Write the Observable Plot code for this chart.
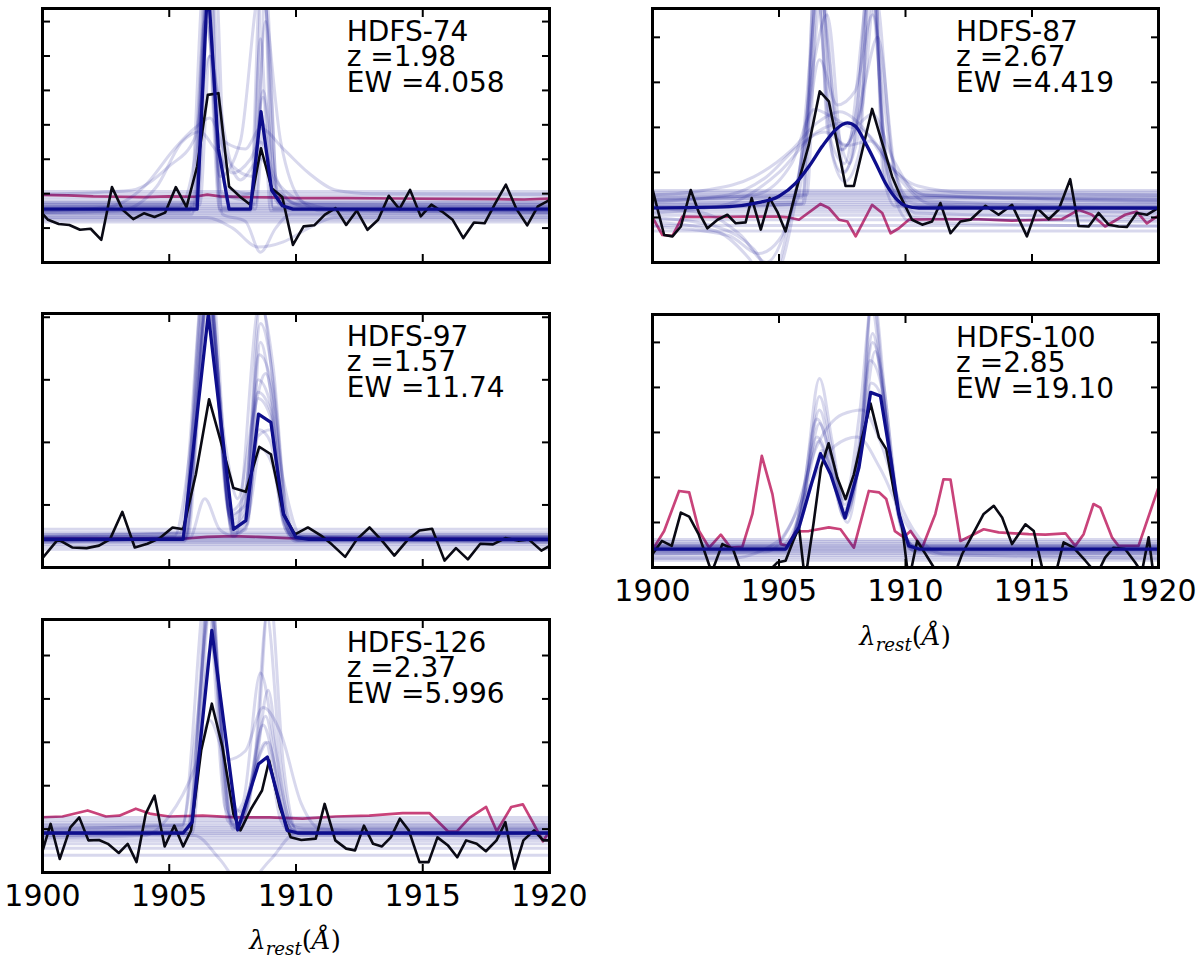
<!DOCTYPE html>
<html><head><meta charset="utf-8">
<script src="https://cdn.jsdelivr.net/npm/d3@7"></script>
<script src="https://cdn.jsdelivr.net/npm/@observablehq/plot@0.6"></script>
<style>
body{margin:0;background:#fff;}
#page{position:relative;width:1200px;height:967px;background:#fff;overflow:hidden;font-family:"DejaVu Sans",sans-serif;}
.panel{position:absolute;}
.xlab{position:absolute;width:200px;text-align:center;font-family:"DejaVu Serif",serif;font-size:26px;line-height:1;color:#000;white-space:nowrap;}
.xlab i{font-style:italic;}
.xlab sub{font-size:70%;vertical-align:-0.35em;line-height:0;}
</style></head>
<body><div id="page"></div>
<script>
// ---------- shared axis values ----------
const xTicks = [1900, 1905, 1910, 1915, 1920];

// ---------- HDFS-74 ----------
const labels74 = ["HDFS-74", "z =1.98", "EW =4.058"];
const yTicks74 = [0, 1, 2, 3, 4, 5, 6, 7];
const yMax74 = 7.38;
const obs74 = [[1899.80,1.58],[1900.22,1.24],[1900.64,1.12],[1901.06,1.09],[1901.48,0.95],[1901.90,0.98],[1902.32,0.66],[1902.74,2.19],[1903.16,1.53],[1903.58,1.26],[1904.00,1.43],[1904.42,1.32],[1904.84,1.45],[1905.26,2.19],[1905.68,1.61],[1906.10,2.79],[1906.52,4.87],[1906.94,4.92],[1907.36,2.21],[1907.78,1.92],[1908.20,1.68],[1908.62,3.32],[1909.04,2.16],[1909.46,1.90],[1909.88,0.51],[1910.30,1.05],[1910.72,1.08],[1911.14,1.39],[1911.56,1.58],[1911.98,1.09],[1912.40,1.51],[1912.82,0.95],[1913.24,1.24],[1913.66,1.94],[1914.08,1.55],[1914.50,2.11],[1914.92,1.34],[1915.34,1.68],[1915.76,1.48],[1916.18,1.24],[1916.60,0.71],[1917.02,1.16],[1917.44,1.14],[1917.86,1.72],[1918.28,2.26],[1918.70,1.55],[1919.12,1.08],[1919.54,1.63],[1919.96,1.80]];
const fit74 = [[1899.8,1.55],[1906.10,1.55],[1906.52,8.2],[1906.94,3.3],[1907.36,1.55],[1908.20,1.55],[1908.62,4.38],[1909.04,2.1],[1909.46,1.65],[1909.88,1.55],[1920.2,1.55]];
const noise74 = [[1899.8,1.97],[1901,1.95],[1902,1.92],[1903,1.91],[1904,1.9],[1905,1.92],[1906,1.91],[1906.5,1.97],[1907,1.92],[1908,1.9],[1909,1.89],[1910,1.87],[1912,1.87],[1914,1.86],[1916,1.85],[1918,1.84],[1919,1.83],[1920.2,1.86]];
const cont74 = [2.06, 1.98, 1.9, 1.82, 1.74, 1.68, 1.62, 1.57, 1.52, 1.47, 1.42, 1.36, 1.3, 1.24, 1.18];
const samples74 = [
 [[1900,1.6],[1906.0,1.6],[1906.5,9.5],[1907.1,1.6],[1908.3,1.6],[1908.7,9],[1909.1,1.6],[1920,1.6]],
 [[1900,1.5],[1905.8,1.5],[1906.4,8.5],[1907.0,1.5],[1908.2,1.5],[1908.6,6.5],[1909.0,1.5],[1920,1.5]],
 [[1900,1.7],[1906.1,1.7],[1906.7,10],[1907.3,1.7],[1908.4,1.7],[1908.8,8],[1909.3,1.7],[1920,1.7]],
 [[1900,1.45],[1903,1.5],[1904.5,2.2],[1905.5,3.5],[1906.2,3.8],[1906.8,3.3],[1907.5,2.6],[1908.2,3.0],[1908.6,3.5],[1909.2,2.4],[1910.5,1.7],[1912,1.5],[1920,1.45]],
 [[1900,1.98],[1903.5,2.1],[1905,2.8],[1906,3.6],[1906.6,6],[1907.2,3.5],[1908,3.3],[1908.6,3.9],[1909.5,3.3],[1910.5,2.6],[1911.6,2.1],[1913,2.0],[1920,1.98]],
 [[1900,1.4],[1905.9,1.4],[1906.5,8],[1907.1,1.4],[1908.0,1.2],[1908.6,0.3],[1909.2,1.0],[1909.8,1.4],[1920,1.4]],
 [[1900,1.3],[1906.5,1.3],[1907.5,1.0],[1908.5,0.45],[1909.5,0.6],[1910.5,1.0],[1911.5,1.3],[1920,1.3]],
 [[1900,1.62],[1905.4,1.65],[1906.0,3],[1906.4,7],[1906.9,5],[1907.5,2.8],[1908.3,2.5],[1908.7,5],[1909.2,2.5],[1910,1.7],[1920,1.62]],
 [[1900,1.55],[1906.1,1.55],[1906.55,11],[1907.0,1.55],[1908.4,1.55],[1908.75,4],[1909.1,1.55],[1920,1.55]],
 [[1900,1.5],[1902.5,1.6],[1904,2.2],[1905.2,3.3],[1906,3.9],[1906.6,4.2],[1907.2,3.2],[1907.8,2.4],[1908.6,3],[1909.4,2],[1910.5,1.6],[1920,1.5]],
 [[1900,1.66],[1906.2,1.66],[1906.6,6],[1907.0,1.9],[1908.2,2.0],[1908.65,9],[1909.2,2],[1909.8,1.66],[1920,1.66]],
 [[1900,1.45],[1906,1.5],[1906.5,7],[1907,2.5],[1907.8,3.5],[1908.6,8],[1909.4,3.5],[1910.2,1.8],[1911,1.5],[1920,1.45]],
 [[1900,1.58],[1905.9,1.6],[1906.5,7.5],[1907.1,2.0],[1908.2,1.8],[1908.7,4.8],[1909.2,1.8],[1909.8,1.6],[1920,1.58]],
 [[1900,1.75],[1906.0,1.75],[1906.6,9],[1907.2,2.2],[1908.3,2.0],[1908.8,7],[1909.3,1.9],[1910,1.75],[1920,1.75]]
];

// ---------- HDFS-87 ----------
const labels87 = ["HDFS-87", "z =2.67", "EW =4.419"];
const yTicks87 = [0, 1, 2, 3, 4, 5];
const yMax87 = 5.64;
const obs87 = [[1899.9,1.85],[1900.46,0.61],[1900.79,0.58],[1901.12,0.80],[1901.51,1.61],[1901.84,1.10],[1902.17,0.76],[1902.57,0.95],[1902.96,1.06],[1903.29,0.87],[1903.68,0.89],[1903.92,1.43],[1904.28,0.73],[1904.63,1.43],[1904.93,1.13],[1905.26,0.69],[1905.72,1.69],[1906.18,2.61],[1906.61,3.80],[1906.97,3.58],[1907.63,1.70],[1907.96,1.70],[1908.68,3.41],[1909.47,1.91],[1909.80,1.47],[1910.26,0.95],[1910.66,0.84],[1911.05,0.91],[1911.38,1.32],[1911.78,0.65],[1912.17,0.91],[1912.57,0.95],[1913.16,1.26],[1913.68,1.06],[1914.21,1.28],[1914.80,0.58],[1915.20,1.21],[1915.66,0.96],[1916.05,1.17],[1916.51,1.85],[1916.84,0.81],[1917.24,0.80],[1917.63,1.10],[1918.03,0.84],[1918.42,0.80],[1918.75,0.79],[1919.14,1.10],[1919.54,1.06],[1919.93,1.19]];
const fit87 = [[1899.8,1.21],[1901.5,1.22],[1903.03,1.24],[1904.08,1.32],[1905.0,1.47],[1905.66,1.76],[1906.18,2.13],[1906.71,2.58],[1907.24,2.95],[1907.70,3.10],[1908.03,3.02],[1908.42,2.65],[1908.82,2.21],[1909.21,1.76],[1909.61,1.43],[1910.0,1.26],[1910.53,1.21],[1912,1.21],[1920.2,1.21]];
const noise87 = [[1899.9,1.10],[1900.39,0.61],[1900.79,0.59],[1901.18,1.02],[1902.37,1.01],[1903.68,1.02],[1905.0,1.02],[1905.39,1.0],[1905.79,0.95],[1906.64,1.30],[1906.97,1.21],[1907.37,0.95],[1907.7,0.91],[1908.03,0.58],[1908.68,1.28],[1909.08,1.10],[1909.41,0.65],[1909.74,0.76],[1910.13,0.95],[1911.18,0.96],[1912.89,0.96],[1914.21,0.93],[1916.18,0.96],[1916.84,1.17],[1917.37,1.06],[1917.89,0.80],[1918.68,1.06],[1919.14,1.13],[1919.54,0.87],[1919.93,1.02]];
const cont87 = [1.6, 1.56, 1.52, 1.48, 1.43, 1.38, 1.33, 1.28, 1.24, 1.18, 1.12, 1.05, 0.95, 0.82, 0.7];
const samples87 = [
 [[1900,1.3],[1905.7,1.35],[1906.2,4],[1906.55,7],[1907.0,4],[1907.5,2.5],[1908.1,3.5],[1908.6,7],[1909.1,3],[1909.7,1.5],[1910.5,1.3],[1920,1.3]],
 [[1900,1.4],[1905.9,1.45],[1906.45,6.5],[1907.0,2.8],[1907.6,2.2],[1908.7,6.5],[1909.3,1.8],[1910,1.45],[1920,1.4]],
 [[1900,1.5],[1902,1.6],[1904,1.9],[1905.5,2.5],[1906.5,3.1],[1907.4,3.35],[1908.3,3.0],[1909.3,2.2],[1910.5,1.7],[1912.5,1.55],[1920,1.5]],
 [[1900,1.2],[1902,1.1],[1903.5,0.6],[1904.5,0.0],[1905.3,0.8],[1906,2.5],[1906.6,4.5],[1907.3,3.5],[1908.0,3.8],[1908.7,5.5],[1909.4,2.5],[1910.2,1.4],[1920,1.2]],
 [[1900,1.0],[1902.5,0.8],[1904,0.3],[1904.8,-0.3],[1905.6,1.2],[1906.4,4.5],[1906.9,5.5],[1907.6,2.0],[1908.4,4],[1908.9,5],[1909.6,2],[1910.4,1.1],[1920,1.0]],
 [[1900,1.1],[1903,1.3],[1905,2.0],[1906.5,2.9],[1907.6,3.1],[1908.6,2.8],[1909.7,1.9],[1911,1.3],[1920,1.1]],
 [[1900,1.25],[1906.0,1.3],[1906.5,8],[1906.9,3],[1907.5,2],[1908.2,3],[1908.7,8],[1909.1,2],[1909.6,1.25],[1920,1.25]],
 [[1900,0.8],[1903,0.6],[1904.2,0.2],[1905,0.5],[1905.8,2],[1906.6,6],[1907.3,3],[1907.8,2.2],[1908.6,6],[1909.3,2],[1910.2,0.9],[1920,0.8]],
 [[1900,1.35],[1903,1.5],[1904.5,1.9],[1905.8,2.6],[1906.8,2.9],[1907.7,2.6],[1908.6,2.7],[1909.5,2.1],[1910.8,1.5],[1920,1.35]],
 [[1900,1.45],[1906.1,1.5],[1906.6,7],[1907.1,2.4],[1907.6,1.8],[1908.2,2.5],[1908.65,7.5],[1909.2,1.8],[1909.8,1.45],[1920,1.45]],
 [[1900,1.2],[1905.9,1.3],[1906.5,6],[1907.0,3.2],[1907.6,2.6],[1908.2,3.4],[1908.7,6],[1909.2,2.2],[1909.9,1.25],[1920,1.2]],
 [[1900,1.38],[1904,1.5],[1905.5,2.2],[1906.4,3.4],[1907.2,3.2],[1907.9,3.0],[1908.7,3.3],[1909.5,2.3],[1910.6,1.5],[1920,1.38]],
 [[1900,0.9],[1902.5,0.7],[1903.8,0.1],[1904.6,-0.5],[1905.4,0.9],[1906.2,3.5],[1906.7,6],[1907.4,2.5],[1908.3,3.5],[1908.8,6],[1909.5,2.2],[1910.3,1.0],[1920,0.9]]
];

// ---------- HDFS-97 ----------
const labels97 = ["HDFS-97", "z =1.57", "EW =11.74"];
const yTicks97 = [0, 1, 2, 3, 4];
const yMax97 = 4.06;
const obs97 = [[1899.9,0.10],[1900.61,0.45],[1901.17,0.32],[1901.74,0.31],[1902.23,0.35],[1902.66,0.45],[1903.15,0.89],[1903.64,0.32],[1904.14,0.38],[1904.63,0.47],[1905.13,0.64],[1905.55,0.61],[1906.05,1.49],[1906.57,2.69],[1907.03,2.02],[1907.53,1.27],[1908.02,1.21],[1908.55,1.93],[1909.01,1.81],[1909.51,0.85],[1909.96,0.53],[1910.47,0.64],[1910.99,0.51],[1911.41,0.37],[1911.94,0.17],[1912.40,0.45],[1912.90,0.64],[1913.39,0.43],[1913.88,0.19],[1914.38,0.43],[1914.87,0.59],[1915.37,0.62],[1915.86,0.11],[1916.31,0.31],[1916.78,0.13],[1917.27,0.38],[1917.77,0.37],[1918.26,0.47],[1918.76,0.43],[1919.18,0.45],[1919.68,0.27],[1920.06,0.36]];
const fit97 = [[1899.8,0.45],[1905.55,0.45],[1906.54,4.05],[1907.53,0.61],[1908.02,0.75],[1908.52,2.45],[1909.01,2.32],[1909.51,0.85],[1910.0,0.48],[1910.5,0.45],[1920.2,0.45]];
const noise97 = [[1899.8,0.46],[1905.5,0.46],[1906.5,0.49],[1907.5,0.5],[1908.5,0.49],[1909.7,0.47],[1920.2,0.45]];
const cont97 = [0.61, 0.56, 0.53, 0.5, 0.48, 0.46, 0.44, 0.42, 0.4, 0.37, 0.34, 0.29];
const samples97 = [
 [[1900,0.48],[1905.5,0.5],[1906.5,4.6],[1907.5,0.7],[1908.0,0.9],[1908.5,3.0],[1909.0,2.6],[1909.5,0.9],[1910,0.48],[1920,0.48]],
 [[1900,0.42],[1905.6,0.42],[1906.55,4.4],[1907.5,0.55],[1908.0,0.6],[1908.55,2.2],[1909.0,2.0],[1909.5,0.7],[1910,0.42],[1920,0.42]],
 [[1900,0.5],[1905.4,0.55],[1906.5,5],[1907.4,0.9],[1908.0,1.2],[1908.6,4.2],[1909.1,3.2],[1909.6,1.0],[1910.1,0.5],[1920,0.5]],
 [[1900,0.45],[1905.7,0.45],[1906.6,4.8],[1907.5,0.5],[1908.1,0.7],[1908.6,3.6],[1909.0,2.8],[1909.5,0.8],[1910,0.45],[1920,0.45]],
 [[1900,0.4],[1905.2,0.5],[1906.0,2.5],[1906.5,4.5],[1907.2,2],[1907.7,1.1],[1908.3,2.4],[1908.8,3.1],[1909.5,1.4],[1910.2,0.5],[1920,0.4]],
 [[1900,0.47],[1905.6,0.47],[1906.5,4.3],[1907.5,0.6],[1908.1,0.8],[1908.6,1.9],[1909.1,1.6],[1909.6,0.6],[1910,0.47],[1920,0.47]],
 [[1900,0.47],[1905.8,0.47],[1906.4,1.1],[1907.0,0.6],[1907.6,0.5],[1908.6,4.3],[1909.2,2.5],[1909.7,0.6],[1910.2,0.47],[1920,0.47]],
 [[1900,0.52],[1905.5,0.55],[1906.45,4.7],[1907.4,0.8],[1907.9,1.0],[1908.5,2.8],[1909.0,2.5],[1909.5,0.9],[1910,0.52],[1920,0.52]],
 [[1900,0.44],[1905.6,0.45],[1906.5,4.2],[1907.5,0.65],[1908.0,0.85],[1908.5,2.7],[1909.0,2.4],[1909.5,0.8],[1910,0.44],[1920,0.44]],
 [[1900,0.49],[1905.5,0.5],[1906.55,4.5],[1907.45,0.75],[1907.95,0.95],[1908.55,3.4],[1909.05,2.9],[1909.55,0.9],[1910,0.49],[1920,0.49]],
 [[1900,0.46],[1905.65,0.46],[1906.5,4.1],[1907.55,0.55],[1908.05,0.7],[1908.5,2.1],[1909.0,2.2],[1909.5,0.75],[1910,0.46],[1920,0.46]],
 [[1900,0.43],[1905.5,0.48],[1906.45,4.9],[1907.4,0.85],[1908.0,1.0],[1908.6,3.9],[1909.1,3.0],[1909.6,0.95],[1910.1,0.43],[1920,0.43]]
];

// ---------- HDFS-100 ----------
const labels100 = ["HDFS-100", "z =2.85", "EW =19.10"];
const yTicks100 = [0, 1, 2, 3, 4, 5];
const yMax100 = 5.62;
const obs100 = [[1899.9,0.22],[1900.37,0.59],[1900.76,0.48],[1901.12,1.22],[1901.45,1.13],[1901.82,0.74],[1902.34,-0.11],[1902.76,0.52],[1903.18,0.41],[1903.63,-0.30],[1904.21,-0.30],[1904.93,0.11],[1905.26,0.15],[1905.59,0.63],[1905.79,0.89],[1906.03,-0.30],[1906.36,0.96],[1906.66,2.22],[1906.96,2.76],[1907.30,2.0],[1907.63,1.52],[1907.96,2.07],[1908.29,2.89],[1908.62,3.64],[1908.95,2.89],[1909.24,2.63],[1909.54,1.70],[1909.87,0.89],[1910.13,-0.30],[1910.46,0.59],[1910.79,0.30],[1911.12,0.0],[1911.45,-0.30],[1911.84,-0.30],[1912.24,0.30],[1912.70,0.78],[1913.09,1.19],[1913.49,1.37],[1913.82,1.11],[1914.21,0.52],[1914.74,0.96],[1915.07,0.81],[1915.46,-0.15],[1915.86,-0.30],[1916.25,0.56],[1916.64,0.44],[1917.11,0.15],[1917.57,-0.15],[1917.89,0.22],[1918.22,0.44],[1918.68,0.41],[1919.08,0.11],[1919.34,-0.11],[1919.61,0.67],[1919.80,-0.15],[1920.07,-0.30]];
const fit100 = [[1899.8,0.41],[1905.26,0.41],[1905.79,0.89],[1906.32,1.93],[1906.64,2.53],[1907.04,2.07],[1907.61,1.10],[1908.16,2.22],[1908.62,3.89],[1909.01,3.81],[1909.41,2.44],[1909.74,1.19],[1910.13,0.48],[1910.53,0.41],[1920.2,0.41]];
const noise100 = [[1899.9,0.30],[1900.46,0.81],[1901.05,1.70],[1901.45,1.67],[1901.84,0.81],[1902.24,0.44],[1902.70,0.73],[1903.09,0.44],[1903.55,0.46],[1903.95,1.19],[1904.32,2.48],[1904.74,1.63],[1905.07,0.52],[1905.33,0.48],[1905.66,0.80],[1906.18,0.81],[1906.97,0.89],[1907.43,0.85],[1907.96,0.44],[1908.55,1.70],[1908.95,1.67],[1909.24,1.52],[1909.58,0.81],[1909.93,0.67],[1910.20,0.81],[1910.66,0.44],[1911.18,1.19],[1911.50,1.96],[1911.78,1.95],[1912.17,0.59],[1912.57,0.70],[1913.09,0.85],[1913.68,0.78],[1914.87,0.74],[1915.53,0.73],[1916.32,0.76],[1916.71,0.48],[1917.04,0.74],[1917.43,1.41],[1917.70,1.33],[1918.16,0.67],[1918.42,0.48],[1919.21,0.48],[1920.0,1.78]];
const cont100 = [0.62, 0.58, 0.54, 0.5, 0.47, 0.44, 0.41, 0.38, 0.35, 0.31, 0.27, 0.22, 0.16];
const samples100 = [
 [[1900,0.45],[1905.0,0.45],[1905.8,1.2],[1906.5,3.3],[1907.1,2.4],[1907.6,1.5],[1908.2,3.5],[1908.7,6],[1909.2,3.5],[1909.8,1.0],[1910.4,0.45],[1920,0.45]],
 [[1900,0.38],[1905.2,0.38],[1906.0,1.8],[1906.6,4.2],[1907.1,2.8],[1907.6,1.3],[1908.2,2.8],[1908.7,5.0],[1909.1,4.2],[1909.7,1.3],[1910.3,0.38],[1920,0.38]],
 [[1900,0.3],[1904.5,0.35],[1905.5,1.0],[1906.5,2.7],[1907.5,3.4],[1908.3,3.5],[1909.0,2.8],[1909.8,1.4],[1910.8,0.5],[1911.5,0.3],[1920,0.3]],
 [[1900,0.5],[1905.3,0.5],[1906.0,1.5],[1906.55,2.8],[1907.1,2.0],[1907.6,1.1],[1908.2,2.6],[1908.65,5.8],[1909.1,4],[1909.7,1.2],[1910.3,0.5],[1920,0.5]],
 [[1900,0.41],[1905.2,0.41],[1906.0,1.6],[1906.6,3.8],[1907.1,2.6],[1907.6,1.2],[1908.3,3.0],[1908.8,4.8],[1909.3,3.0],[1909.8,1.0],[1910.4,0.41],[1920,0.41]],
 [[1900,0.2],[1903,0.2],[1905,0.6],[1906.2,1.8],[1907.2,2.7],[1908.1,2.9],[1909.0,2.2],[1910,1.0],[1911.2,0.3],[1920,0.2]],
 [[1900,0.34],[1905.3,0.34],[1906.1,2.0],[1906.6,3.2],[1907.1,2.2],[1907.7,1.0],[1908.3,3.2],[1908.7,6.2],[1909.2,3.8],[1909.8,1.1],[1910.4,0.34],[1920,0.34]],
 [[1900,0.43],[1905.3,0.43],[1905.9,1.1],[1906.4,2.1],[1906.7,2.6],[1907.1,2.1],[1907.6,1.2],[1908.2,2.4],[1908.65,4.1],[1909.05,3.8],[1909.5,1.9],[1909.9,0.8],[1910.5,0.43],[1920,0.43]],
 [[1900,0.4],[1905.2,0.4],[1905.8,1.0],[1906.5,2.9],[1907.0,2.3],[1907.6,1.1],[1908.2,2.6],[1908.6,4.6],[1909.1,3.9],[1909.6,1.5],[1910.2,0.4],[1920,0.4]],
 [[1900,0.47],[1905.3,0.47],[1905.9,1.3],[1906.6,3.5],[1907.1,2.4],[1907.6,1.4],[1908.2,2.9],[1908.7,5.2],[1909.2,3.4],[1909.7,1.3],[1910.3,0.47],[1920,0.47]]
];

// ---------- HDFS-126 ----------
const labels126 = ["HDFS-126", "z =2.37", "EW =5.996"];
const yTicks126 = [0, 1, 2, 3, 4, 5];
const yMax126 = 5.83;
const obs126 = [[1899.9,0.30],[1900.32,1.12],[1900.68,0.31],[1901.10,1.04],[1901.45,1.27],[1901.81,0.74],[1902.23,0.75],[1902.58,0.66],[1903.01,0.45],[1903.36,0.66],[1903.71,0.24],[1904.07,1.35],[1904.42,1.77],[1904.82,0.60],[1905.20,1.08],[1905.55,0.60],[1905.86,0.97],[1906.26,2.81],[1906.68,3.89],[1907.10,2.89],[1907.53,1.35],[1907.81,0.97],[1908.23,1.47],[1908.66,1.89],[1908.94,2.58],[1909.36,1.51],[1909.79,0.81],[1910.21,0.75],[1910.78,0.78],[1911.13,1.58],[1911.55,0.74],[1911.98,0.55],[1912.33,0.51],[1912.68,1.08],[1913.04,0.66],[1913.39,0.60],[1913.74,0.81],[1914.10,1.24],[1914.45,0.97],[1914.87,0.24],[1915.23,0.24],[1915.58,0.81],[1916.00,0.62],[1916.36,0.35],[1916.71,0.74],[1917.13,0.66],[1917.49,0.49],[1917.91,0.74],[1918.26,1.16],[1918.62,0.08],[1918.97,0.74],[1919.39,0.97],[1919.75,0.74],[1920.06,0.74]];
const fit126 = [[1899.8,0.91],[1905.55,0.91],[1905.90,1.16],[1906.68,5.58],[1907.70,0.98],[1908.52,2.50],[1908.87,2.66],[1909.65,0.97],[1910.07,0.91],[1920.2,0.91]];
const noise126 = [[1899.8,1.27],[1900.79,1.29],[1901.78,1.43],[1902.50,1.29],[1903.03,1.31],[1903.68,1.47],[1904.28,1.35],[1905.0,1.29],[1906.32,1.31],[1907.63,1.27],[1908.95,1.27],[1910.26,1.24],[1911.58,1.29],[1912.89,1.31],[1914.21,1.37],[1915.26,1.37],[1915.99,0.95],[1916.34,0.94],[1916.84,1.26],[1917.50,1.51],[1917.92,0.95],[1918.49,1.51],[1918.95,1.57],[1919.34,1.16],[1919.74,0.72],[1920.1,1.04]];
const cont126 = [1.27, 1.2, 1.14, 1.08, 1.03, 0.98, 0.94, 0.9, 0.86, 0.8, 0.74, 0.66, 0.56, 0.4];
const samples126 = [
 [[1900,0.95],[1905.7,1.0],[1906.2,4],[1906.6,7],[1907.1,3],[1907.6,1.2],[1908.2,2.0],[1908.8,3.6],[1909.4,1.6],[1910,0.95],[1920,0.95]],
 [[1900,0.85],[1905.8,0.9],[1906.6,6.5],[1907.3,1.5],[1907.7,1.0],[1908.3,2.2],[1908.8,3.0],[1909.4,1.2],[1910,0.85],[1920,0.85]],
 [[1900,1.0],[1905.5,1.1],[1906.1,3.5],[1906.6,6.2],[1907.2,2.5],[1907.8,1.4],[1908.4,2.8],[1908.85,5.9],[1909.4,2.5],[1910,1.0],[1920,1.0]],
 [[1900,0.8],[1904,0.85],[1905,1.3],[1906,2.4],[1906.6,3.5],[1907.3,2.6],[1908.0,2.8],[1908.7,3.8],[1909.4,3.2],[1910.2,1.6],[1911,1.0],[1920,0.8]],
 [[1900,1.1],[1905.8,1.1],[1906.5,6.3],[1907.2,1.5],[1907.7,1.1],[1908.4,2.4],[1908.9,4.2],[1909.4,2.0],[1909.9,1.1],[1920,1.1]],
 [[1900,0.9],[1906,0.85],[1907,0.3],[1907.9,-0.3],[1909,0.3],[1910,0.9],[1920,0.9]],
 [[1900,0.9],[1905.9,0.9],[1906.6,6],[1907.3,1.2],[1907.8,1.0],[1908.5,3.2],[1908.95,6.5],[1909.5,2.5],[1910.1,0.9],[1920,0.9]],
 [[1900,0.92],[1905.7,0.95],[1906.6,6.0],[1907.5,1.1],[1907.9,1.2],[1908.5,2.6],[1908.9,3.0],[1909.5,1.3],[1910.1,0.92],[1920,0.92]],
 [[1900,0.88],[1905.8,0.9],[1906.65,5.2],[1907.5,1.0],[1908.0,1.4],[1908.7,3.4],[1909.2,2.4],[1909.8,1.0],[1910.3,0.88],[1920,0.88]],
 [[1900,1.02],[1905.5,1.05],[1906.55,7],[1907.4,1.3],[1907.9,1.6],[1908.6,4.6],[1909.2,2.8],[1909.8,1.1],[1910.3,1.02],[1920,1.02]]
];

// ---------- drawing ----------
const navy = "#0e0e8c";
const pink = "#c9437a";

function makePanel(c) {
  const sampleRows = c.samples.flatMap((s, k) => s.map(p => ({x: p[0], y: p[1], k})));
  const px = d => d[0], py = d => d[1];
  const marks = [
    Plot.line(c.noise, {x: px, y: py, stroke: pink, strokeWidth: 2.7, clip: true}),
    Plot.ruleY(c.cont, {stroke: navy, strokeOpacity: 0.16, strokeWidth: 3}),
    Plot.line(sampleRows, {x: "x", y: "y", z: "k", curve: "monotone-x", stroke: navy, strokeOpacity: 0.16, strokeWidth: 3, clip: true}),
    Plot.line(c.obs, {x: px, y: py, stroke: "#0a0a14", strokeWidth: 2.6, clip: true}),
    Plot.line(c.fit, {x: px, y: py, stroke: navy, strokeWidth: 3.3, curve: c.fitCurve || "linear", clip: true}),
    Plot.frame({stroke: "black", strokeWidth: 3}),
    Plot.axisY(c.yTicks, {anchor: "left", tickSize: -8, fill: "none", stroke: "black", strokeWidth: 2}),
    Plot.axisY(c.yTicks, {anchor: "right", tickSize: -8, fill: "none", stroke: "black", strokeWidth: 2}),
    Plot.axisX(xTicks, {anchor: "bottom", tickSize: -8, fill: "none", stroke: "black", strokeWidth: 2}),
    Plot.axisX(xTicks, {anchor: "top", tickSize: -8, fill: "none", stroke: "black", strokeWidth: 2}),
    Plot.text([c.labels.join("\n")], {x: () => 1912, frameAnchor: "top", text: d => d, textAnchor: "start", lineAnchor: "top", lineHeight: 0.91, dy: 14, fontSize: 28, fill: "black"})
  ];
  if (c.showX) {
    marks.push(Plot.axisX(xTicks, {anchor: "bottom", tickSize: 0, tickPadding: 12, fontSize: 30, fill: "black", label: null, tickFormat: d => String(d)}));
  }
  return Plot.plot({
    width: c.w, height: c.h,
    marginTop: c.mt, marginBottom: c.mb, marginLeft: c.ml, marginRight: c.mr,
    x: {domain: [1900, 1920]},
    y: {domain: [0, c.yMax]},
    style: {fontFamily: "DejaVu Sans", background: "transparent", overflow: "visible"},
    marks
  });
}

const panels = [
  {labels: labels74, obs: obs74, fit: fit74, noise: noise74, cont: cont74, samples: samples74, yMax: yMax74, yTicks: yTicks74,
   left: 0, top: 0, w: 600, h: 300, mt: 8, mb: 38, ml: 42, mr: 51},
  {labels: labels87, obs: obs87, fit: fit87, noise: noise87, cont: cont87, samples: samples87, yMax: yMax87, yTicks: yTicks87, fitCurve: "monotone-x",
   left: 600, top: 0, w: 600, h: 300, mt: 8, mb: 38, ml: 52, mr: 42},
  {labels: labels97, obs: obs97, fit: fit97, noise: noise97, cont: cont97, samples: samples97, yMax: yMax97, yTicks: yTicks97,
   left: 0, top: 300, w: 600, h: 300, mt: 13, mb: 33, ml: 42, mr: 51},
  {labels: labels100, obs: obs100, fit: fit100, noise: noise100, cont: cont100, samples: samples100, yMax: yMax100, yTicks: yTicks100, showX: true,
   left: 600, top: 300, w: 600, h: 310, mt: 14, mb: 43, ml: 52, mr: 42},
  {labels: labels126, obs: obs126, fit: fit126, noise: noise126, cont: cont126, samples: samples126, yMax: yMax126, yTicks: yTicks126, showX: true,
   left: 0, top: 600, w: 600, h: 320, mt: 19, mb: 48, ml: 42, mr: 51}
];

const page = document.getElementById("page");
for (const c of panels) {
  const div = document.createElement("div");
  div.className = "panel";
  div.style.left = c.left + "px";
  div.style.top = c.top + "px";
  div.appendChild(makePanel(c));
  page.appendChild(div);
}

function addXLabel(cx, top) {
  const d = document.createElement("div");
  d.className = "xlab";
  d.style.left = (cx - 100) + "px";
  d.style.top = top + "px";
  d.innerHTML = "<i>λ</i><sub><i>rest</i></sub>(<i>Å</i>)";
  page.appendChild(d);
}
addXLabel(905, 623);
addXLabel(295, 927);
</script>
</body></html>
